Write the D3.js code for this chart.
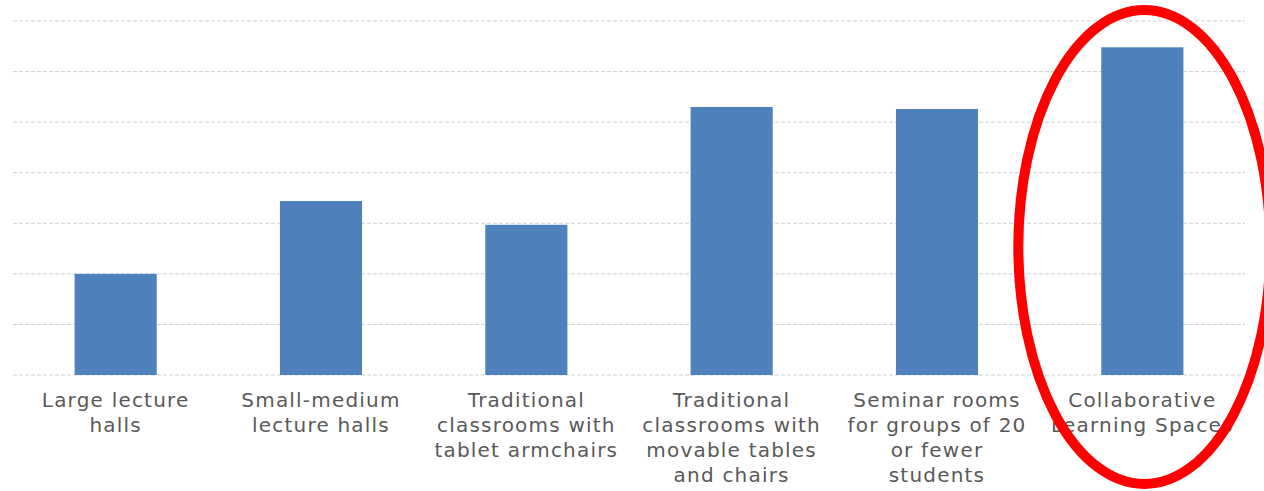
<!DOCTYPE html>
<html lang="en">
<meta charset="UTF-8">
<style>
body {margin:0; background:#fff}
</style>
<script src="https://d3js.org/d3.v7.min.js"></script>
<body>
<div id="chart"></div>
<script>

// categories (label lines) and values
var categories = [
  ["Large lecture", "halls"],
  ["Small-medium", "lecture halls"],
  ["Traditional", "classrooms with", "tablet armchairs"],
  ["Traditional", "classrooms with", "movable tables", "and chairs"],
  ["Seminar rooms", "for groups of 20", "or fewer", "students"],
  ["Collaborative", "Learning Spaces"]
];
var values = [2.0, 3.44, 2.97, 5.3, 5.26, 6.48];
var gridTicks = [0, 1, 2, 3, 4, 5, 6, 7];

var W = 1264, H = 491;
var margin = {top: 21, right: 19, bottom: 116, left: 13},
    width = W - margin.left - margin.right,
    height = H - margin.top - margin.bottom;

var svg = d3.select("#chart")
  .append("svg")
    .attr("width", W)
    .attr("height", H)
  .append("g")
    .attr("transform", "translate(" + margin.left + "," + margin.top + ")");

var x = d3.scaleBand()
    .domain(d3.range(categories.length))
    .range([0, width])
    .paddingInner(0.6)
    .paddingOuter(0.3);

var y = d3.scaleLinear()
    .domain([0, 7])
    .range([height, 0]);

// gridlines
svg.append("g")
  .selectAll("line")
  .data(gridTicks)
  .enter()
  .append("line")
    .attr("x1", 0)
    .attr("x2", width)
    .attr("y1", function(d) { return y(d); })
    .attr("y2", function(d) { return y(d); })
    .style("stroke", "#d0d0d0")
    .style("stroke-width", 1)
    .style("stroke-dasharray", "4,2");

// bars
svg.selectAll("rect")
  .data(values)
  .enter()
  .append("rect")
    .attr("x", function(d, i) { return x(i); })
    .attr("y", function(d) { return y(d); })
    .attr("width", x.bandwidth())
    .attr("height", function(d) { return height - y(d); })
    .style("fill", "#4f81bd");

// category labels
var labels = svg.append("g")
  .selectAll("text")
  .data(categories)
  .enter()
  .append("text")
    .attr("x", function(d, i) { return x(i) + x.bandwidth() / 2; })
    .attr("y", height + 32)
    .attr("text-anchor", "middle")
    .style("font-family", "'DejaVu Sans', sans-serif")
    .style("font-size", "20px")
    .style("letter-spacing", "1.2px")
    .style("fill", "#595959");

labels.selectAll("tspan")
  .data(function(d) { return d; })
  .enter()
  .append("tspan")
    .attr("x", function() { return d3.select(this.parentNode).attr("x"); })
    .attr("dy", function(d, i) { return i === 0 ? 0 : 25; })
    .text(function(d) { return d; });

// red highlight ellipse round the last bar
var last = categories.length - 1;
svg.append("ellipse")
  .attr("cx", x(last) + x.bandwidth() / 2 + 2)
  .attr("cy", 247 - margin.top)
  .attr("rx", 126)
  .attr("ry", 237)
  .style("fill", "none")
  .style("stroke", "#ff0000")
  .style("stroke-width", 10);

</script>
</body>
</html>
